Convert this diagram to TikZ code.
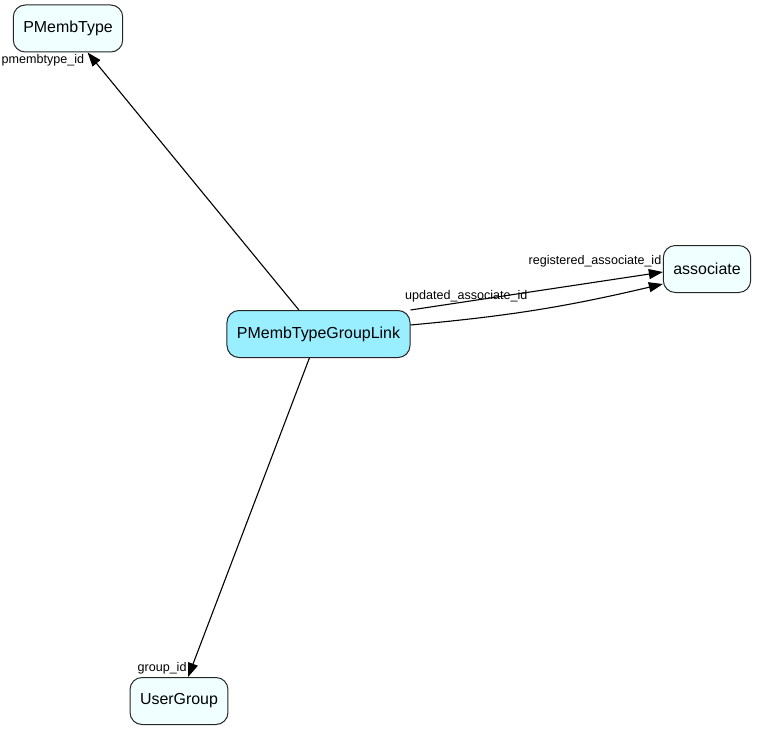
\documentclass[tikz,border=0pt]{standalone}
\usepackage{fontspec}
\setmainfont{Liberation Sans}
\usepackage{xcolor}
\definecolor{tablefill}{RGB}{240,255,255}
\definecolor{mainfill}{RGB}{153,238,255}
\usetikzlibrary{positioning,arrows.meta}

\begin{document}
\begin{tikzpicture}[x=1bp,y=-1bp,
  table/.style={draw=black!85, line width=1bp, rounded corners=12bp, fill=tablefill,
    minimum height=47bp, inner xsep=10bp, font=\fontsize{16}{18}\selectfont},
  fk/.style={-{Triangle[length=14bp,width=10bp]}, line width=1.1bp},
  lbl/.style={font=\fontsize{12.6}{14}\selectfont, inner sep=1bp}]
\useasboundingbox (0,0) rectangle (757,731);

\node[table] (ptype) at (68,28.5) {PMembType};
\node[table, fill=mainfill] (link) at (318.5,334) {PMembTypeGroupLink};
\node[table] (assoc) at (707,269) {associate};
\node[table] (ugroup) at (179,701) {UserGroup};

\draw[fk] (link) -- (ptype) node[lbl, pos=1, anchor=north east, xshift=-2bp] {pmembtype\_id};
\draw[fk] ([yshift=24bp]link.east) -- ([yshift=-3bp]assoc.west)
  node[lbl, pos=1, anchor=south east, yshift=3bp] {registered\_associate\_id};
\draw[fk] ([yshift=9bp]link.east) to[bend right=4] ([yshift=-15bp]assoc.west);
\node[lbl, anchor=south west] (updlbl) at (404,303) {updated\_associate\_id};
\draw[fk] (link) -- (ugroup) node[lbl, pos=1, anchor=south east, yshift=1bp] {group\_id};
\end{tikzpicture}
\end{document}
